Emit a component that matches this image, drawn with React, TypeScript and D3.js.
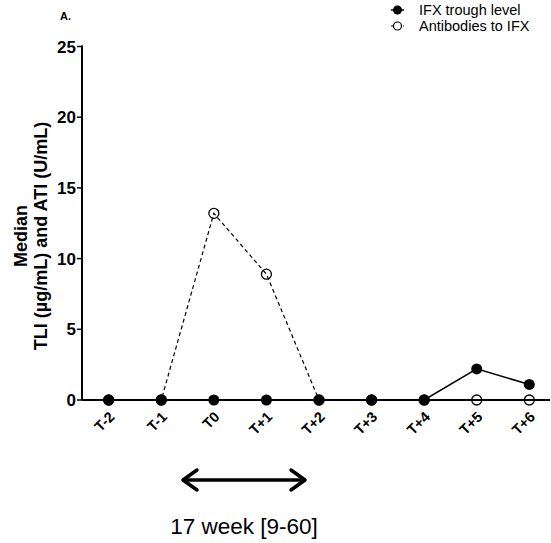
import React from "react";
import * as d3 from "d3";

const categories = ["T-2", "T-1", "T0", "T+1", "T+2", "T+3", "T+4", "T+5", "T+6"];
const troughLevel = [0, 0, 0, 0, 0, 0, 0, 2.2, 1.1];
const antibodies = [0, 0, 13.2, 8.9, 0, 0, 0, 0, 0];
const yTicks = [0, 5, 10, 15, 20, 25];

const W = 551;
const H = 543;
const left = 82;
const right = 550;
const top = 46.5;
const bottom = 400;

export default function App() {
  const x = d3.scalePoint<string>().domain(categories).range([108.7, 529.3]);
  const y = d3.scaleLinear().domain([0, 25]).range([bottom, top]);
  const line = d3
    .line<number>()
    .x((_, i) => x(categories[i]) as number)
    .y((d) => y(d));
  const font = "Arial, 'Liberation Sans', sans-serif";
  const ay = 480;
  const ax1 = 183;
  const ax2 = 305;
  return (
    <svg
      width={W}
      height={H}
      style={{ position: "absolute", left: 0, top: 0 }}
      fontFamily={font}
    >
      <rect width={W} height={H} fill="#fff" />
      <text x={60} y={20} fontSize={11} fontWeight="bold">A.</text>
      {/* y axis */}
      <line x1={left} x2={left} y1={top - 1} y2={bottom} stroke="#000" strokeWidth={2} />
      {yTicks.map((t) => (
        <g key={t}>
          <line x1={left - 5} x2={left} y1={y(t)} y2={y(t)} stroke="#000" strokeWidth={1.5} />
          <text x={left - 6} y={y(t)} dy="0.36em" textAnchor="end" fontSize={17} fontWeight="bold">
            {t}
          </text>
        </g>
      ))}
      {/* x axis */}
      <line x1={left} x2={right} y1={bottom} y2={bottom} stroke="#000" strokeWidth={2} />
      {categories.map((c) => (
        <text
          key={c}
          transform={`translate(${(x(c) as number) + 3},${bottom + 14}) rotate(-45)`}
          textAnchor="end"
          dy="0.36em"
          fontSize={14.5}
          fontWeight="bold"
        >
          {c}
        </text>
      ))}
      {/* y label */}
      <text
        transform={`translate(27,236) rotate(-90)`}
        textAnchor="middle"
        fontSize={18}
        fontWeight="bold"
      >
        <tspan x={0} dy={0}>Median</tspan>
        <tspan x={0} dy={20}>TLI (µg/mL) and ATI (U/mL)</tspan>
      </text>
      {/* antibodies series */}
      <path d={line(antibodies) || ""} fill="none" stroke="#000" strokeWidth={1.2} strokeDasharray="4,3" />
      {antibodies.map((v, i) => (
        <circle key={i} cx={x(categories[i]) as number} cy={y(v)} r={5} fill="none" stroke="#000" strokeWidth={1.3} />
      ))}
      {/* trough series */}
      <path d={line(troughLevel) || ""} fill="none" stroke="#000" strokeWidth={1.5} />
      {troughLevel.map((v, i) => (
        <circle key={i} cx={x(categories[i]) as number} cy={y(v)} r={5.5} fill="#000" />
      ))}
      {/* legend */}
      <g fontSize={14.5}>
        <line x1={391} x2={404} y1={10} y2={10} stroke="#000" strokeWidth={1.5} />
        <circle cx={397.5} cy={10} r={4.5} fill="#000" />
        <text x={419} y={10} dy="0.35em">IFX trough level</text>
        <line x1={391} x2={404} y1={26} y2={26} stroke="#000" strokeWidth={1.2} strokeDasharray="2,2" />
        <circle cx={397.5} cy={26} r={4} fill="#fff" stroke="#000" strokeWidth={1.2} />
        <text x={419} y={26} dy="0.35em">Antibodies to IFX</text>
      </g>
      {/* arrow */}
      <g stroke="#000" strokeWidth={3.5} fill="none" strokeLinecap="round" strokeLinejoin="round">
        <line x1={ax1 + 1} x2={ax2 - 1} y1={ay} y2={ay} />
        <polyline points={`${ax1 + 14},${ay - 10} ${ax1},${ay} ${ax1 + 14},${ay + 10}`} />
        <polyline points={`${ax2 - 14},${ay - 10} ${ax2},${ay} ${ax2 - 14},${ay + 10}`} />
      </g>
      <text x={244} y={526} dy="0.36em" textAnchor="middle" fontSize={22.5}>
        17 week [9-60]
      </text>
    </svg>
  );
}
